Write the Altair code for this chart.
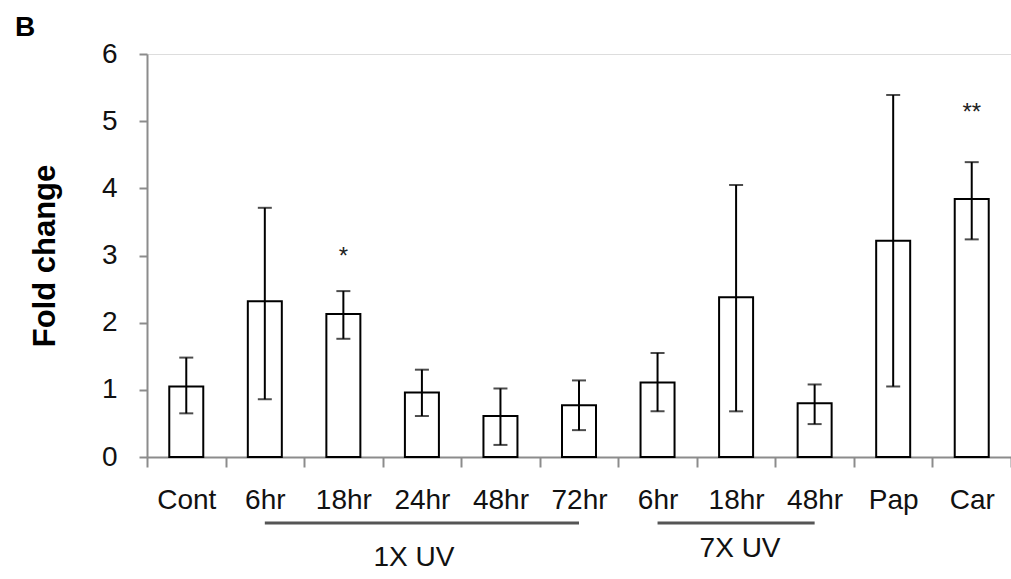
import altair as alt
import pandas as pd

# ---- data ----
keys = ["Cont", "6hr|1X", "18hr|1X", "24hr|1X", "48hr|1X", "72hr|1X",
        "6hr|7X", "18hr|7X", "48hr|7X", "Pap", "Car"]
means = [1.05, 2.32, 2.13, 0.96, 0.61, 0.77, 1.11, 2.38, 0.80, 3.22, 3.84]
err_hi = [1.48, 3.71, 2.47, 1.30, 1.02, 1.14, 1.55, 4.05, 1.08, 5.39, 4.39]
err_lo = [0.65, 0.86, 1.76, 0.61, 0.18, 0.40, 0.68, 0.68, 0.49, 1.05, 3.24]

star_keys = ["18hr|1X", "Car"]
star_text = ["*", "**"]
star_y = [3.05, 5.19]

group_names = ["1X UV", "7X UV"]
group_start = ["6hr|1X", "6hr|7X"]
group_end = ["72hr|1X", "48hr|7X"]
group_mid = ["24hr|1X", "18hr|7X"]

y_ticks = [0, 1, 2, 3, 4, 5, 6]

FONT = "Liberation Sans"

df = pd.DataFrame({"key": keys, "mean": means, "hi": err_hi, "lo": err_lo})
stars = pd.DataFrame({"key": star_keys, "txt": star_text, "y": star_y})
groups = pd.DataFrame({"name": group_names, "start": group_start,
                       "end": group_end, "mid": group_mid})

H = 403

xscale = alt.Scale(domain=keys, paddingInner=0, paddingOuter=0)
yscale = alt.Scale(domain=[0, 6], nice=False)

x_axis = alt.Axis(
    title=None, labelExpr="split(datum.label, '|')[0]", labelAngle=0,
    labelFont=FONT, labelFontSize=28, labelColor="#111111",
    labelPadding=19, tickSize=10, tickBand="extent",
    domainColor="#8c8c8c", tickColor="#8c8c8c", domainWidth=2, tickWidth=2,
    grid=False,
)
y_axis = alt.Axis(
    title="Fold change", values=y_ticks, format="d",
    labelFont=FONT, labelFontSize=28, labelColor="#111111", labelPadding=22,
    tickSize=8, domainColor="#8c8c8c", tickColor="#8c8c8c",
    domainWidth=2, tickWidth=2, grid=False,
    titleFont=FONT, titleFontSize=31, titleFontWeight="bold", titleColor="#000000",
    titleAngle=270, titleX=-102, titleY=H / 2, titleAlign="center",
    titleBaseline="middle",
)

base = alt.Chart(df)

bars = base.mark_bar(fill="white", stroke="black", strokeWidth=2, size=34).encode(
    x=alt.X("key:N", scale=xscale, axis=x_axis, sort=keys),
    y=alt.Y("mean:Q", scale=yscale, axis=y_axis),
)

err = base.mark_rule(color="black", strokeWidth=2).encode(
    x=alt.X("key:N", scale=xscale, sort=keys),
    y=alt.Y("lo:Q", scale=yscale),
    y2="hi:Q",
)
cap_hi = base.mark_tick(color="black", size=14, thickness=2).encode(
    x=alt.X("key:N", scale=xscale, sort=keys),
    y=alt.Y("hi:Q", scale=yscale),
)
cap_lo = base.mark_tick(color="black", size=14, thickness=2).encode(
    x=alt.X("key:N", scale=xscale, sort=keys),
    y=alt.Y("lo:Q", scale=yscale),
)

star_layer = alt.Chart(stars).mark_text(
    font=FONT, fontSize=24, color="#222222", baseline="alphabetic", dy=12
).encode(
    x=alt.X("key:N", scale=xscale, sort=keys),
    y=alt.Y("y:Q", scale=yscale),
    text="txt:N",
)

group_rules = alt.Chart(groups).mark_rule(color="#555555", strokeWidth=3).encode(
    x=alt.X("start:N", scale=xscale, sort=keys),
    x2="end:N",
    y=alt.value(H + 66),
)

g1 = alt.Chart(groups).transform_filter(alt.datum.name == "1X UV").mark_text(
    font=FONT, fontSize=28, color="#111111", baseline="middle", dx=-8
).encode(
    x=alt.X("mid:N", scale=xscale, sort=keys),
    y=alt.value(H + 101),
    text="name:N",
)
g2 = alt.Chart(groups).transform_filter(alt.datum.name == "7X UV").mark_text(
    font=FONT, fontSize=28, color="#111111", baseline="middle", dx=4
).encode(
    x=alt.X("mid:N", scale=xscale, sort=keys),
    y=alt.value(H + 92),
    text="name:N",
)

chart = alt.layer(bars, err, cap_hi, cap_lo, star_layer, group_rules, g1, g2).properties(
    width=864,
    height=H,
    autosize="none",
    padding={"left": 147, "top": 54, "right": 0, "bottom": 122},
    title=alt.TitleParams(
        text="B", anchor="start", frame="group", dx=-132, dy=14, fontSize=28,
        fontWeight="bold", font=FONT, color="#000000", offset=12,
    ),
).configure_view(stroke=None).configure(background="white")

chart.save("out.html", embed_options={"renderer": "svg", "actions": False})
